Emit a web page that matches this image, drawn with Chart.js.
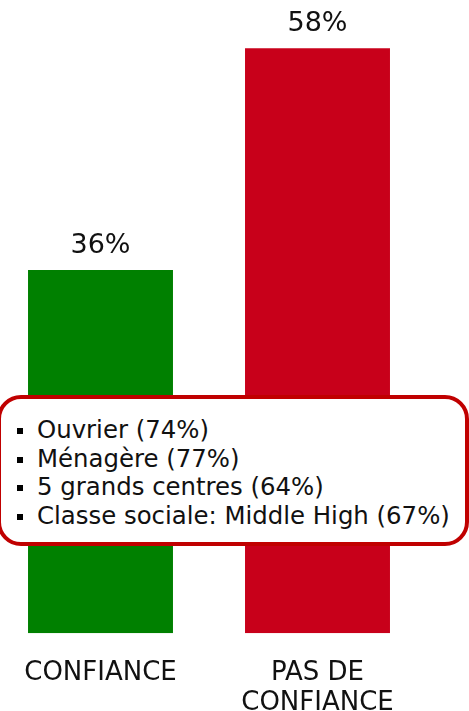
<!DOCTYPE html>
<html>
<head>
<meta charset="utf-8">
<script src="https://cdn.jsdelivr.net/npm/chart.js@4"></script>
<style>
  html, body { margin: 0; padding: 0; background: #fff; overflow: hidden; }
  #wrap { position: absolute; left: -8px; top: 0; width: 477px; height: 737px; }
  #note {
    position: absolute; left: -3px; top: 395px; width: 464px; height: 143px;
    border: 4px solid #c00000; border-radius: 24px; background: #fff;
    font-family: "DejaVu Sans", Verdana, sans-serif; font-size: 24.4px; color: #111;
  }
  #note div { position: absolute; left: 36px; white-space: nowrap; line-height: 28px; }
  #note div::before {
    content: ""; position: absolute; left: -20px; top: 12px; width: 6px; height: 6px; background: #000;
  }
</style>
</head>
<body>
<div id="wrap"><canvas id="chart" width="477" height="737"></canvas></div>
<div id="note"></div>
<script>
const categories = ["CONFIANCE", ["PAS DE", "CONFIANCE"]]
const values = [36, 58]
const barColors = ["#008000", "#c8001a"]
const noteLines = [
    "Ouvrier (74%)",
    "Ménagère (77%)",
    "5 grands centres (64%)",
    "Classe sociale: Middle High (67%)",
]

/**
 * Fill the note box
 */
function fillNote() {
    const note = document.getElementById("note")
    noteLines.forEach((text, i) => {
        const line = document.createElement("div")
        line.textContent = text
        line.style.top = (17 + i * 28.5) + "px"
        note.appendChild(line)
    })
}

/**
 * Draw the value above each bar
 */
const valueLabels = {
    id: "valueLabels",
    afterDatasetsDraw(chart) {
        const ctx = chart.ctx
        ctx.save()
        ctx.font = "27px 'DejaVu Sans'"
        ctx.fillStyle = "#111"
        ctx.textAlign = "center"
        ctx.textBaseline = "alphabetic"
        chart.getDatasetMeta(0).data.forEach((bar, i) => {
            ctx.fillText(values[i] + "%", bar.x, bar.y - 17)
        })
        ctx.restore()
    }
}

new Chart(document.getElementById("chart"), {
    type: "bar",
    data: {
        labels: categories,
        datasets: [{
            data: values,
            backgroundColor: barColors,
            categoryPercentage: 1,
            barPercentage: 0.668,
        }]
    },
    options: {
        responsive: false,
        animation: false,
        layout: { padding: { top: 28, right: 43, left: 0, bottom: 2 } },
        plugins: { legend: { display: false }, tooltip: { enabled: false } },
        scales: {
            x: {
                grid: { display: false },
                border: { display: false },
                ticks: {
                    color: "#111",
                    padding: 17,
                    maxRotation: 0,
                    autoSkip: false,
                    font: { family: "'DejaVu Sans'", size: 26, lineHeight: 1.15 },
                },
            },
            y: { display: false, min: 0, max: 60 },
        }
    },
    plugins: [valueLabels]
})

fillNote()
</script>
</body>
</html>
